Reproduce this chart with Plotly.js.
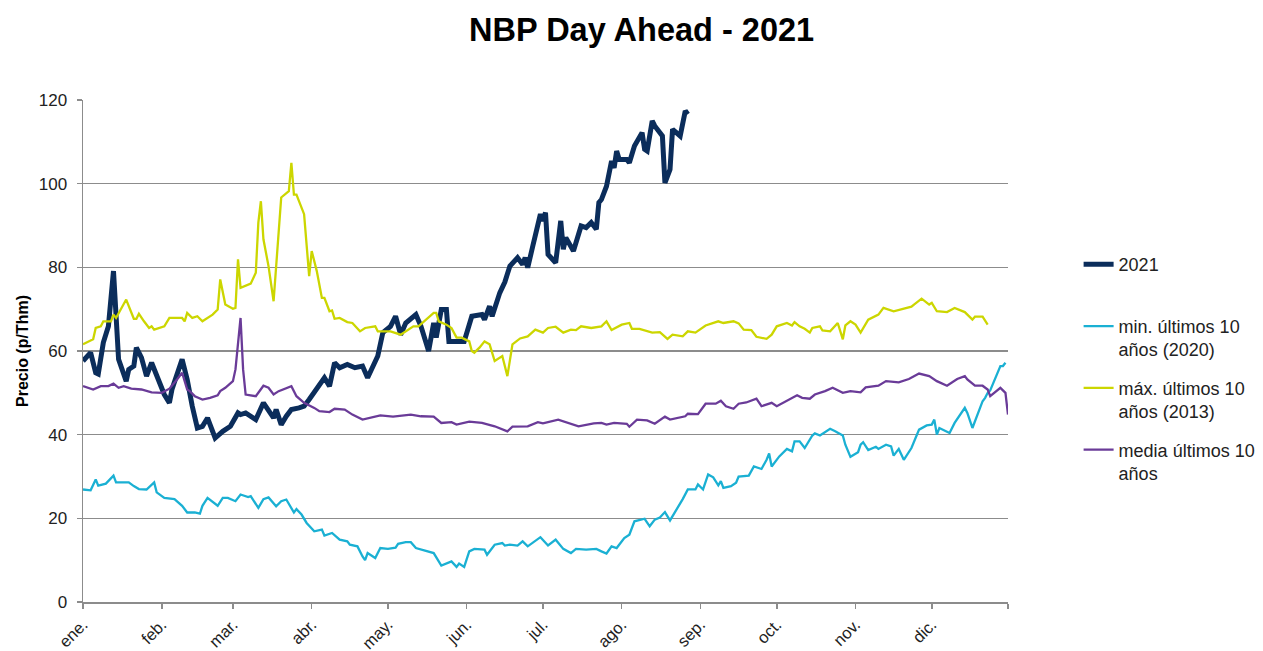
<!DOCTYPE html>
<html>
<head>
<meta charset="utf-8">
<script src="https://cdn.plot.ly/plotly-3.0.1.min.js"></script>
<style>
  html, body { margin: 0; padding: 0; background: #fff; }
  #plot { width: 1263px; height: 651px; }
</style>
</head>
<body>
<div id="plot"></div>
<script>
// NBP day-ahead, p/Thm
var dates2021 = ['2021-01-01','2021-01-04','2021-01-06','2021-01-07','2021-01-09','2021-01-11','2021-01-13','2021-01-14','2021-01-15','2021-01-18','2021-01-19','2021-01-21','2021-01-22','2021-01-24','2021-01-26','2021-01-28','2021-01-30','2021-02-02','2021-02-04','2021-02-05','2021-02-09','2021-02-11','2021-02-13','2021-02-15','2021-02-17','2021-02-19','2021-02-20','2021-02-22','2021-02-25','2021-02-28','2021-03-03','2021-03-04','2021-03-06','2021-03-10','2021-03-13','2021-03-15','2021-03-17','2021-03-18','2021-03-20','2021-03-22','2021-03-24','2021-03-27','2021-03-29','2021-03-31','2021-04-03','2021-04-06','2021-04-08','2021-04-10','2021-04-12','2021-04-15','2021-04-18','2021-04-21','2021-04-23','2021-04-25','2021-04-27','2021-04-29','2021-05-02','2021-05-04','2021-05-06','2021-05-08','2021-05-12','2021-05-14','2021-05-17','2021-05-19','2021-05-20','2021-05-22','2021-05-24','2021-05-25','2021-05-27','2021-05-31','2021-06-03','2021-06-07','2021-06-08','2021-06-10','2021-06-11','2021-06-14','2021-06-16','2021-06-18','2021-06-21','2021-06-23','2021-06-24','2021-06-25','2021-06-27','2021-06-29','2021-06-30','2021-07-01','2021-07-02','2021-07-03','2021-07-06','2021-07-08','2021-07-09','2021-07-10','2021-07-13','2021-07-16','2021-07-18','2021-07-20','2021-07-22','2021-07-23','2021-07-24','2021-07-26','2021-07-27','2021-07-28','2021-07-29','2021-07-30','2021-07-31','2021-08-03','2021-08-04','2021-08-06','2021-08-09','2021-08-10','2021-08-11','2021-08-13','2021-08-14','2021-08-17','2021-08-18','2021-08-20','2021-08-21','2021-08-24','2021-08-26','2021-08-27'];
var vals2021 = [57.6,59.6,54.8,54.5,62,65.9,79.1,68.3,58,52.8,55.6,56.4,60.8,58.4,54,57.2,54,49.6,47.6,50.8,58,53.2,46.8,41.6,42,44,42.4,39.2,40.8,42,45.2,44.8,45.2,43.6,47.6,45.6,44,46,42.4,44.4,46,46.4,46.8,48.4,50.8,53.6,51.6,57.2,56,56.8,56,56.4,53.6,56.4,58.8,64.4,65.9,68.3,63.9,66.7,68.7,65.9,60,66.7,63.2,69.9,69.9,62.3,62.3,62.3,68.3,68.7,67.5,70.7,68.3,73.9,76.5,80.3,82.3,80.7,82.3,79.9,85.1,89.9,92.7,91.1,93.1,83.1,81.1,91.1,84.3,87.1,83.9,89.9,89.5,90.7,89.1,95.5,96.2,99.4,102.6,105.4,103.8,107.8,105.8,105.8,105,109,112.2,108.2,107.8,115,113.8,111.4,100.2,103.4,113,111.4,117.4,116.6];

var datesMin = ['2021-01-01','2021-01-04','2021-01-06','2021-01-07','2021-01-10','2021-01-13','2021-01-14','2021-01-19','2021-01-21','2021-01-23','2021-01-26','2021-01-29','2021-01-30','2021-02-02','2021-02-06','2021-02-09','2021-02-11','2021-02-14','2021-02-16','2021-02-17','2021-02-19','2021-02-22','2021-02-23','2021-02-25','2021-02-27','2021-03-02','2021-03-04','2021-03-07','2021-03-08','2021-03-11','2021-03-13','2021-03-15','2021-03-18','2021-03-20','2021-03-22','2021-03-25','2021-03-26','2021-03-28','2021-03-30','2021-04-02','2021-04-05','2021-04-06','2021-04-09','2021-04-12','2021-04-15','2021-04-16','2021-04-19','2021-04-21','2021-04-22','2021-04-23','2021-04-26','2021-04-28','2021-05-01','2021-05-04','2021-05-05','2021-05-08','2021-05-10','2021-05-12','2021-05-17','2021-05-19','2021-05-22','2021-05-26','2021-05-28','2021-05-29','2021-05-31','2021-06-02','2021-06-04','2021-06-08','2021-06-09','2021-06-12','2021-06-15','2021-06-16','2021-06-18','2021-06-21','2021-06-23','2021-06-25','2021-06-30','2021-07-03','2021-07-06','2021-07-09','2021-07-12','2021-07-14','2021-07-18','2021-07-22','2021-07-24','2021-07-26','2021-07-28','2021-07-30','2021-08-02','2021-08-04','2021-08-06','2021-08-10','2021-08-12','2021-08-14','2021-08-16','2021-08-18','2021-08-20','2021-08-23','2021-08-25','2021-08-27','2021-08-30','2021-08-31','2021-09-02','2021-09-04','2021-09-06','2021-09-08','2021-09-09','2021-09-10','2021-09-13','2021-09-15','2021-09-16','2021-09-20','2021-09-22','2021-09-25','2021-09-27','2021-09-28','2021-09-29','2021-10-02','2021-10-05','2021-10-07','2021-10-08','2021-10-10','2021-10-12','2021-10-15','2021-10-16','2021-10-18','2021-10-22','2021-10-24','2021-10-27','2021-10-28','2021-10-30','2021-11-02','2021-11-03','2021-11-04','2021-11-06','2021-11-09','2021-11-10','2021-11-13','2021-11-15','2021-11-16','2021-11-18','2021-11-20','2021-11-23','2021-11-26','2021-11-29','2021-12-01','2021-12-02','2021-12-03','2021-12-04','2021-12-08','2021-12-10','2021-12-14','2021-12-15','2021-12-17','2021-12-21','2021-12-22','2021-12-23','2021-12-24','2021-12-28','2021-12-29','2021-12-30'];
var valsMin = [26.9,26.7,29.3,27.8,28.3,30.2,28.6,28.6,27.7,27,26.9,28.6,26.2,24.9,24.6,23,21.4,21.4,21.1,23,24.9,23.5,23,24.9,24.9,24.1,25.7,25.1,25.3,22.5,24.6,25,22.9,24.1,24.5,21.4,22.2,20.9,18.9,16.9,17.3,15.9,16.5,14.9,14.5,13.7,13.3,10.9,10,11.7,10.5,12.9,12.7,13,13.9,14.3,14.3,12.9,12.1,11.7,8.7,9.7,8.4,9.2,8.4,12.1,12.7,12.5,11.3,13.7,14.1,13.5,13.7,13.5,14.5,13.3,15.5,13.5,14.9,12.7,11.7,12.7,12.5,12.7,12.1,11.6,13.3,12.9,15.3,16.1,19.3,19.9,18.1,19.7,20.2,21.5,19.5,22.5,24.6,26.9,26.9,28.1,26.9,30.5,29.8,27.9,28.9,27.3,27.7,28.5,30,30.2,32.4,31.8,34,35.5,32.4,34.8,36.6,36,38.4,38.4,36.8,39.8,40.3,39.8,41.4,40.8,39.8,37.6,34.7,35.8,37.6,38.2,36.3,37.1,36.6,37.6,37.2,35,36.6,34,36.8,41.2,42.2,42.4,43.6,40,41.6,40.4,42.8,46.4,45.2,41.6,48,48.8,50,50.6,56.4,56.4,57.2];

var datesMax = ['2021-01-01','2021-01-05','2021-01-06','2021-01-08','2021-01-09','2021-01-12','2021-01-13','2021-01-14','2021-01-18','2021-01-21','2021-01-22','2021-01-23','2021-01-25','2021-01-27','2021-01-28','2021-01-29','2021-02-02','2021-02-04','2021-02-09','2021-02-10','2021-02-11','2021-02-13','2021-02-15','2021-02-17','2021-02-21','2021-02-23','2021-02-24','2021-02-26','2021-03-01','2021-03-02','2021-03-03','2021-03-04','2021-03-08','2021-03-10','2021-03-11','2021-03-12','2021-03-13','2021-03-15','2021-03-17','2021-03-20','2021-03-23','2021-03-24','2021-03-25','2021-03-26','2021-03-29','2021-03-31','2021-04-01','2021-04-03','2021-04-05','2021-04-06','2021-04-08','2021-04-09','2021-04-10','2021-04-12','2021-04-15','2021-04-17','2021-04-20','2021-04-22','2021-04-26','2021-04-27','2021-05-02','2021-05-06','2021-05-11','2021-05-13','2021-05-19','2021-05-20','2021-05-21','2021-05-24','2021-05-26','2021-05-28','2021-05-30','2021-06-02','2021-06-03','2021-06-04','2021-06-06','2021-06-08','2021-06-10','2021-06-12','2021-06-15','2021-06-17','2021-06-19','2021-06-22','2021-06-25','2021-06-28','2021-07-01','2021-07-03','2021-07-06','2021-07-09','2021-07-12','2021-07-14','2021-07-16','2021-07-20','2021-07-24','2021-07-26','2021-07-28','2021-08-01','2021-08-04','2021-08-05','2021-08-08','2021-08-13','2021-08-16','2021-08-19','2021-08-21','2021-08-25','2021-08-27','2021-08-30','2021-09-03','2021-09-08','2021-09-10','2021-09-14','2021-09-16','2021-09-18','2021-09-21','2021-09-23','2021-09-27','2021-09-29','2021-10-01','2021-10-03','2021-10-05','2021-10-07','2021-10-08','2021-10-10','2021-10-12','2021-10-14','2021-10-15','2021-10-18','2021-10-19','2021-10-22','2021-10-25','2021-10-27','2021-10-28','2021-10-30','2021-11-01','2021-11-03','2021-11-06','2021-11-10','2021-11-12','2021-11-16','2021-11-19','2021-11-23','2021-11-24','2021-11-27','2021-11-30','2021-12-01','2021-12-03','2021-12-07','2021-12-10','2021-12-14','2021-12-17','2021-12-18','2021-12-21','2021-12-23'];
var valsMax = [61.6,62.8,65.5,65.9,67.1,67.1,68.7,67.9,72.3,67.7,67.7,68.9,67.1,65.5,65.9,65.1,65.9,67.9,67.9,67.1,69.1,67.9,68.3,67.1,68.7,69.9,77.1,71.1,70.1,70.3,81.9,75.1,76.1,78.7,90.7,95.8,86.7,80.3,71.9,96.7,98.2,105,97.4,97.4,92.7,77.9,83.9,79.1,72.7,72.7,69.5,69.7,67.7,67.9,66.9,66.7,64.7,65.5,65.9,64.7,64.7,63.9,65.9,65.9,69.1,69.1,67.1,66.3,65.5,63.2,63.2,62.3,60,59.6,60.8,62.3,61.6,57.6,58.8,54,61.6,63,63.5,65.1,64.4,65.5,65.8,64.4,65.1,65,65.9,65.5,65.9,67.1,65,66.3,66.7,65.3,65.3,64.4,64.5,62.9,63.9,63.5,64.7,64.4,66.1,67.1,66.7,67.1,66.6,65.1,65,63.4,62.9,63.9,65.9,66.3,66.7,66.1,66.9,65.9,65.3,64.4,65.5,65.9,64.9,64.7,66.7,62.8,66.1,67.1,66.3,64.4,67.5,68.7,70.3,69.5,69.9,70.6,71.1,72.5,71.1,71.5,69.5,69.3,70.3,69.3,67.5,68.2,68.2,66.3];

var datesMedia = ['2021-01-01','2021-01-05','2021-01-08','2021-01-11','2021-01-13','2021-01-15','2021-01-17','2021-01-20','2021-01-24','2021-01-28','2021-02-01','2021-02-04','2021-02-07','2021-02-09','2021-02-11','2021-02-12','2021-02-14','2021-02-17','2021-02-20','2021-02-23','2021-02-24','2021-02-26','2021-03-01','2021-03-02','2021-03-04','2021-03-05','2021-03-06','2021-03-10','2021-03-13','2021-03-15','2021-03-17','2021-03-19','2021-03-24','2021-03-26','2021-03-29','2021-04-02','2021-04-04','2021-04-08','2021-04-10','2021-04-14','2021-04-17','2021-04-21','2021-04-28','2021-05-03','2021-05-10','2021-05-14','2021-05-19','2021-05-22','2021-05-26','2021-05-28','2021-06-02','2021-06-07','2021-06-12','2021-06-17','2021-06-19','2021-06-25','2021-06-29','2021-07-01','2021-07-07','2021-07-11','2021-07-15','2021-07-21','2021-07-24','2021-07-26','2021-07-29','2021-08-03','2021-08-04','2021-08-07','2021-08-11','2021-08-14','2021-08-18','2021-08-20','2021-08-26','2021-08-27','2021-08-31','2021-09-03','2021-09-07','2021-09-09','2021-09-11','2021-09-14','2021-09-16','2021-09-19','2021-09-23','2021-09-25','2021-09-29','2021-10-01','2021-10-05','2021-10-09','2021-10-11','2021-10-14','2021-10-16','2021-10-20','2021-10-23','2021-10-27','2021-10-30','2021-11-03','2021-11-05','2021-11-10','2021-11-13','2021-11-18','2021-11-22','2021-11-26','2021-11-30','2021-12-03','2021-12-07','2021-12-11','2021-12-14','2021-12-15','2021-12-18','2021-12-21','2021-12-23','2021-12-24','2021-12-28','2021-12-30','2021-12-31'];
var valsMedia = [51.6,50.8,51.6,51.6,52.2,51.2,51.6,51,50.8,50.1,50,51,53.2,54.8,50.8,50.4,49.2,48.4,48.8,49.4,50.4,51.2,52.8,55.6,67.9,55.6,49.6,49.2,51.7,51.2,49.6,50.4,51.6,49.2,47.6,46.4,45.6,45.4,46.2,46,44.8,43.6,44.6,44.3,44.8,44.4,44.3,42.8,43,42.4,43.1,42.8,42,40.8,41.9,42,43,42.7,43.6,42.8,42,42.7,42.8,42.4,42.8,42.6,41.9,43.6,43.4,42.6,44.3,43.6,44.4,45,44.9,47.4,47.4,48.1,46.8,46.2,47.4,47.7,48.6,46.8,47.6,46.8,48,49.4,48.8,48.6,49.6,50.4,51.2,50,50.4,50.1,51.3,51.7,52.8,52.5,53.3,54.6,54,52.8,51.7,53.3,54,53.2,51.7,51.7,50.8,49.2,51.2,50,44.8];

var monthTicks = ['2021-01-01','2021-02-01','2021-03-01','2021-04-01','2021-05-01','2021-06-01','2021-07-01','2021-08-01','2021-09-01','2021-10-01','2021-11-01','2021-12-01','2021-12-31'];
var monthLabels = ['ene.','feb.','mar.','abr.','may.','jun.','jul.','ago.','sep.','oct.','nov.','dic.',''];

var FONT = 'Liberation Sans, Arial, sans-serif';

var data = [
  {x: dates2021, y: vals2021, name: '2021<br> ', legendgroup: 'g1', type: 'scatter', mode: 'lines',
   line: {color: '#0b2d5b', width: 5}},
  {x: datesMin, y: valsMin, name: 'min. últimos 10<br>años (2020)', legendgroup: 'g2', type: 'scatter', mode: 'lines',
   line: {color: '#1ab0d3', width: 2.3}},
  {x: datesMax, y: valsMax, name: 'máx. últimos 10<br>años (2013)', legendgroup: 'g3', type: 'scatter', mode: 'lines',
   line: {color: '#ccd600', width: 2.3}},
  {x: datesMedia, y: valsMedia, name: 'media últimos 10<br>años', legendgroup: 'g4', type: 'scatter', mode: 'lines',
   line: {color: '#6a3b98', width: 2.3}}
];

var layout = {
  width: 1263,
  height: 651,
  margin: {l: 83, r: 255, t: 100, b: 49},
  paper_bgcolor: '#fff',
  plot_bgcolor: '#fff',
  font: {family: FONT, color: '#222', size: 17},
  title: {
    text: '<b>NBP Day Ahead - 2021</b>',
    font: {family: FONT, size: 32.5, color: '#000'},
    xref: 'container', x: 0.508, xanchor: 'center',
    yref: 'container', y: 0.955, yanchor: 'middle'
  },
  xaxis: {
    type: 'date',
    range: ['2021-01-01', '2021-12-31'],
    tickvals: monthTicks,
    ticktext: monthLabels,
    tickangle: -45,
    ticks: 'outside', ticklen: 5, tickcolor: '#8c8c8c', tickwidth: 1.5,
    showgrid: false,
    showline: true, linecolor: '#8c8c8c', linewidth: 1.5,
    tickfont: {size: 16.5},
    zeroline: false
  },
  yaxis: {
    range: [0, 120],
    tickvals: [0, 20, 40, 60, 80, 100, 120],
    ticks: 'outside', ticklen: 5, tickcolor: '#8c8c8c', tickwidth: 1.5,
    ticklabelstandoff: 6,
    showgrid: true, gridcolor: '#8c8c8c', gridwidth: 1.5,
    showline: true, linecolor: '#8c8c8c', linewidth: 1.5,
    zeroline: false,
    tickfont: {size: 17},
    title: {text: '<b>Precio (p/Thm)</b>', font: {size: 16, color: '#000'}, standoff: 6}
  },
  showlegend: true,
  legend: {
    xref: 'container', x: 0.854, xanchor: 'left',
    yref: 'container', y: 0.622, yanchor: 'top',
    font: {size: 18, color: '#222'},
    valign: 'top',
    tracegroupgap: 12,
    borderwidth: 0,
    bgcolor: 'rgba(0,0,0,0)'
  }
};

Plotly.newPlot('plot', data, layout, {staticPlot: true});
</script>
</body>
</html>
